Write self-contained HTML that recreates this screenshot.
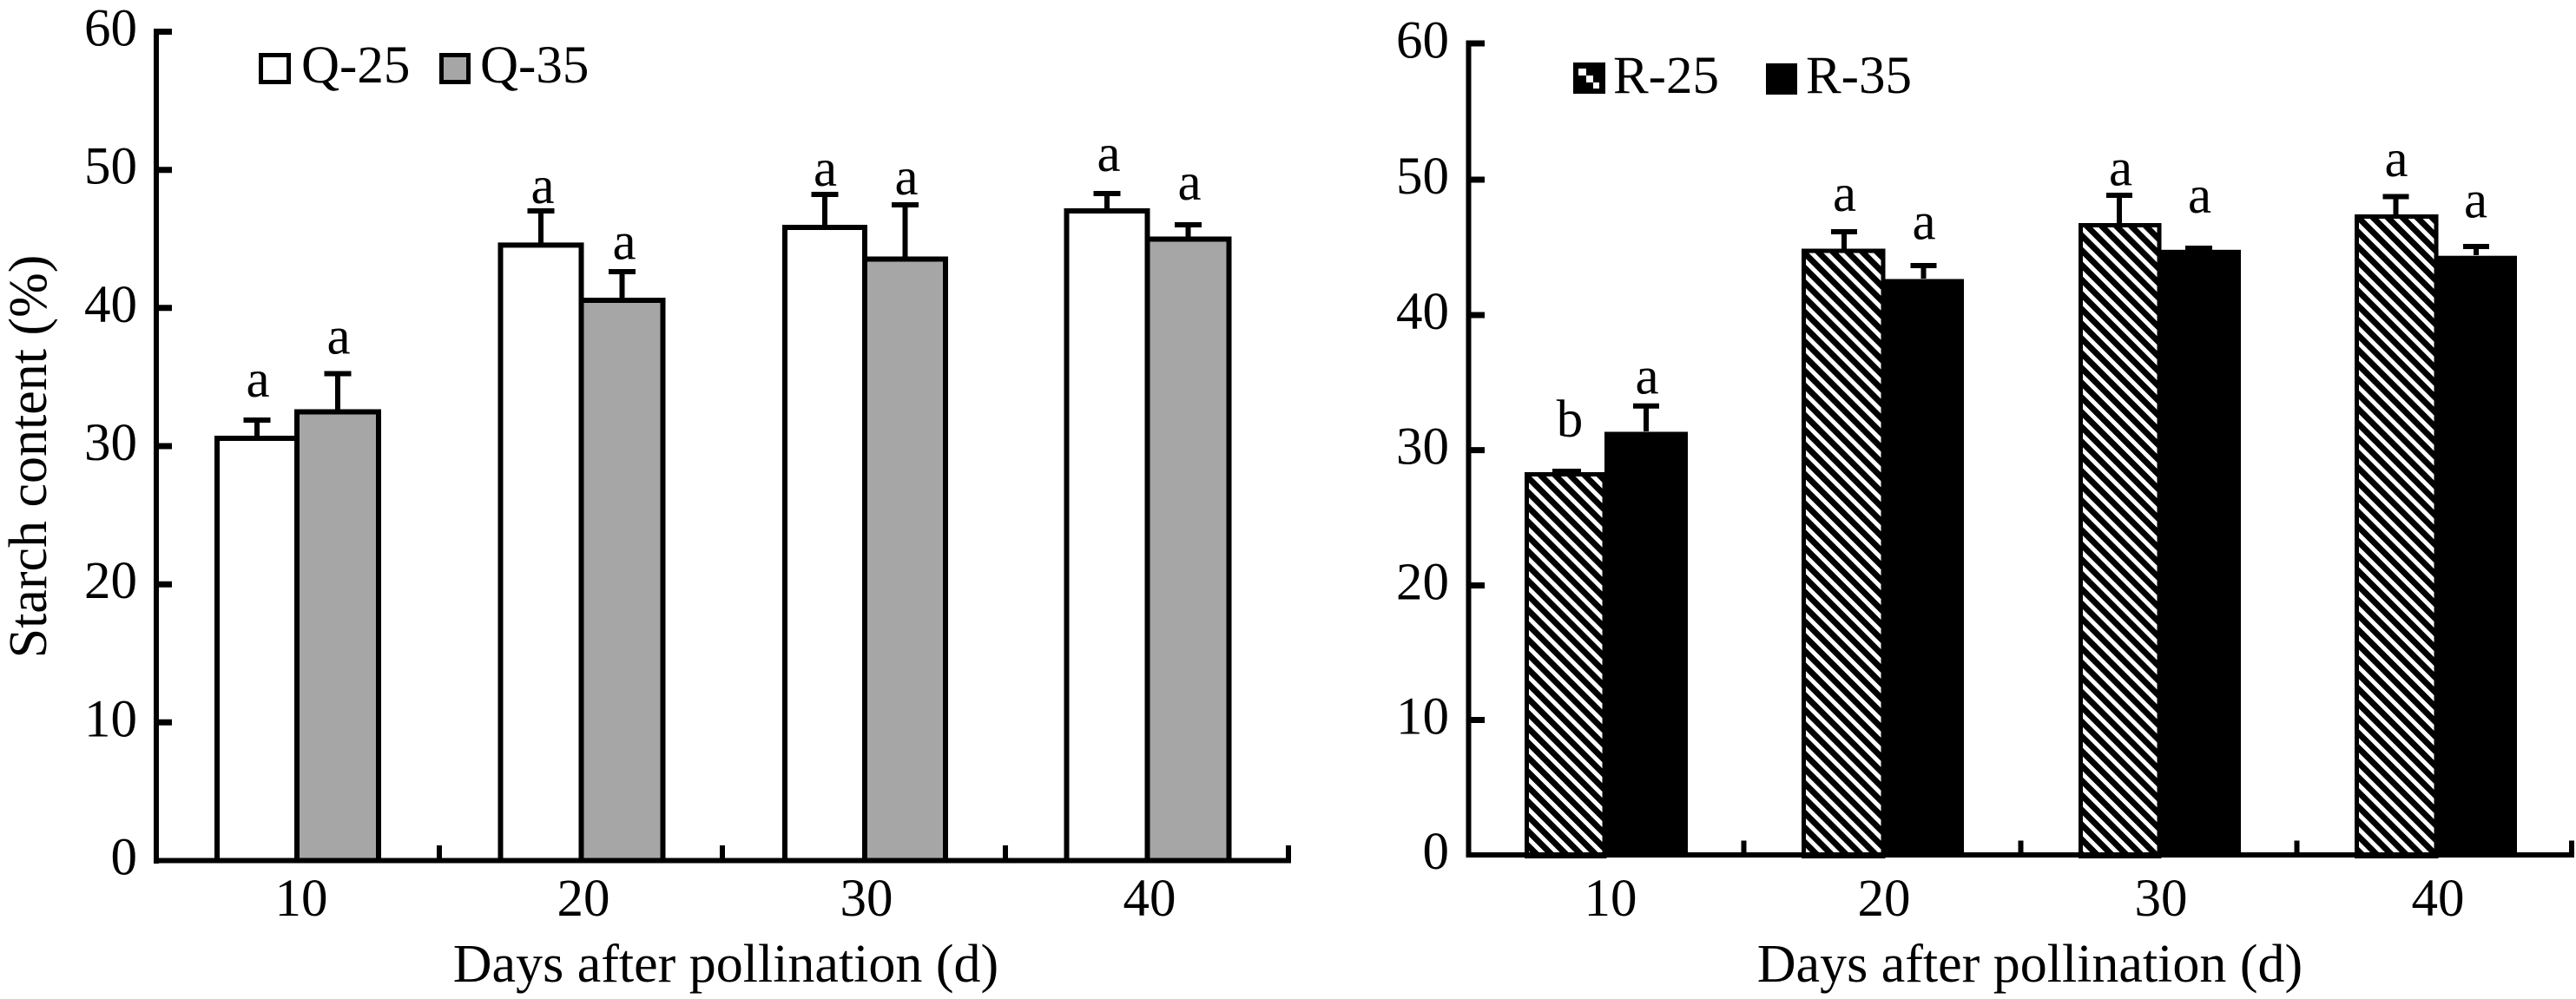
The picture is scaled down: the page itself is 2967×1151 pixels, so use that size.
<!DOCTYPE html>
<html>
<head>
<meta charset="utf-8">
<style>
  html, body { margin: 0; padding: 0; background: #ffffff; }
  svg { display: block; }
  text { font-family: "Liberation Serif", "Times New Roman", serif; fill: #000; }
</style>
</head>
<body>
<svg width="2967" height="1151" viewBox="0 0 2967 1151" xmlns="http://www.w3.org/2000/svg">
  <defs>
    <pattern id="hatch" patternUnits="userSpaceOnUse" width="12" height="12" patternTransform="rotate(-45)">
      <rect x="0" y="0" width="12" height="12" fill="#ffffff"/>
      <rect x="0" y="0" width="7" height="12" fill="#000000"/>
    </pattern>
  </defs>
  <rect x="0" y="0" width="2967" height="1151" fill="#ffffff"/>

  <!-- ================= LEFT CHART ================= -->
  <g stroke="#000" stroke-width="6" stroke-linejoin="miter">
    <rect x="250" y="505" width="92" height="486.5" fill="#ffffff"/>
    <rect x="342" y="474.5" width="94" height="517" fill="#a6a6a6"/>
    <rect x="576.5" y="282.4" width="93" height="709.1" fill="#ffffff"/>
    <rect x="669.5" y="346" width="94" height="645.5" fill="#a6a6a6"/>
    <rect x="904" y="262" width="92" height="729.5" fill="#ffffff"/>
    <rect x="996" y="298.5" width="93" height="693" fill="#a6a6a6"/>
    <rect x="1228.5" y="243" width="93" height="748.5" fill="#ffffff"/>
    <rect x="1321.5" y="275.5" width="94" height="716" fill="#a6a6a6"/>
  </g>
  <g stroke="#000" stroke-width="6" fill="none">
    <line x1="296" y1="505" x2="296" y2="484"/><line x1="280.5" y1="484" x2="311.5" y2="484"/>
    <line x1="389" y1="474" x2="389" y2="430.5"/><line x1="373.5" y1="430.5" x2="404.5" y2="430.5"/>
    <line x1="623" y1="282" x2="623" y2="243"/><line x1="607.5" y1="243" x2="638.5" y2="243"/>
    <line x1="716.5" y1="346" x2="716.5" y2="313"/><line x1="701" y1="313" x2="732" y2="313"/>
    <line x1="950" y1="262" x2="950" y2="224"/><line x1="934.5" y1="224" x2="965.5" y2="224"/>
    <line x1="1042.5" y1="298" x2="1042.5" y2="236"/><line x1="1027" y1="236" x2="1058" y2="236"/>
    <line x1="1275" y1="243" x2="1275" y2="223"/><line x1="1259.5" y1="223" x2="1290.5" y2="223"/>
    <line x1="1368.5" y1="275" x2="1368.5" y2="259"/><line x1="1353" y1="259" x2="1384" y2="259"/>
  </g>
  <g stroke="#000" fill="none">
    <line x1="180" y1="33" x2="180" y2="995" stroke-width="6"/>
    <line x1="177" y1="991.5" x2="1487" y2="991.5" stroke-width="6"/>
    <g stroke-width="7">
      <line x1="177" y1="36.5" x2="198" y2="36.5"/>
      <line x1="177" y1="195.7" x2="198" y2="195.7"/>
      <line x1="177" y1="354.8" x2="198" y2="354.8"/>
      <line x1="177" y1="514" x2="198" y2="514"/>
      <line x1="177" y1="673.2" x2="198" y2="673.2"/>
      <line x1="177" y1="832.3" x2="198" y2="832.3"/>
    </g>
    <g stroke-width="6">
      <line x1="506" y1="991" x2="506" y2="974"/>
      <line x1="832" y1="991" x2="832" y2="974"/>
      <line x1="1158" y1="991" x2="1158" y2="974"/>
      <line x1="1484" y1="994" x2="1484" y2="974"/>
    </g>
  </g>
  <g font-size="61" text-anchor="end">
    <text x="158" y="52.5">60</text>
    <text x="158" y="211.7">50</text>
    <text x="158" y="370.8">40</text>
    <text x="158" y="530">30</text>
    <text x="158" y="689.2">20</text>
    <text x="158" y="848.3">10</text>
    <text x="158" y="1007.5">0</text>
  </g>
  <g font-size="61" text-anchor="middle">
    <text x="347" y="1055">10</text>
    <text x="672" y="1055">20</text>
    <text x="998" y="1055">30</text>
    <text x="1324" y="1055">40</text>
  </g>
  <text x="836" y="1131" font-size="62" text-anchor="middle">Days after pollination (d)</text>
  <text transform="translate(53,526) rotate(-90)" font-size="62" text-anchor="middle">Starch content (%)</text>
  <g font-size="61" text-anchor="middle">
    <text x="297" y="457">a</text>
    <text x="390" y="407.5">a</text>
    <text x="625" y="234">a</text>
    <text x="719" y="298.5">a</text>
    <text x="950.5" y="214">a</text>
    <text x="1044" y="224">a</text>
    <text x="1277" y="197">a</text>
    <text x="1370" y="230">a</text>
  </g>
  <rect x="300.5" y="63.5" width="32" height="31" fill="#ffffff" stroke="#000" stroke-width="5"/>
  <text x="347" y="95" font-size="61">Q-25</text>
  <rect x="508.5" y="63.5" width="31" height="31" fill="#a6a6a6" stroke="#000" stroke-width="5"/>
  <text x="553" y="95" font-size="61">Q-35</text>

  <!-- ================= RIGHT CHART ================= -->
  <g stroke="#000" stroke-width="5">
    <rect x="1758.5" y="546.5" width="89.5" height="440" fill="url(#hatch)"/>
    <rect x="2077.5" y="289" width="91.5" height="697.5" fill="url(#hatch)"/>
    <rect x="2396.5" y="259.5" width="90.5" height="727" fill="url(#hatch)"/>
    <rect x="2714.5" y="249.5" width="91.5" height="737" fill="url(#hatch)"/>
  </g>
  <g fill="#000">
    <rect x="1848" y="497.5" width="96" height="488"/>
    <rect x="2169" y="321.5" width="93" height="664"/>
    <rect x="2487" y="287.8" width="94" height="697.5"/>
    <rect x="2806" y="294.7" width="93" height="690.5"/>
  </g>
  <g stroke="#000" stroke-width="6" fill="none">
    <line x1="1788" y1="543" x2="1821" y2="543"/>
    <line x1="1896" y1="497" x2="1896" y2="467.7"/><line x1="1881" y1="467.7" x2="1911" y2="467.7"/>
    <line x1="2124" y1="289" x2="2124" y2="267"/><line x1="2109" y1="267" x2="2139" y2="267"/>
    <line x1="2215.5" y1="321" x2="2215.5" y2="306"/><line x1="2200.5" y1="306" x2="2230.5" y2="306"/>
    <line x1="2441" y1="259" x2="2441" y2="225"/><line x1="2426" y1="225" x2="2456" y2="225"/>
    <line x1="2517" y1="286" x2="2548" y2="286"/>
    <line x1="2759.5" y1="249" x2="2759.5" y2="226.5"/><line x1="2744.5" y1="226.5" x2="2774.5" y2="226.5"/>
    <line x1="2852" y1="294" x2="2852" y2="284"/><line x1="2837" y1="284" x2="2867" y2="284"/>
  </g>
  <g stroke="#000" fill="none">
    <line x1="1691.5" y1="46.5" x2="1691.5" y2="988" stroke-width="6"/>
    <line x1="1688.5" y1="985" x2="2965" y2="985" stroke-width="6"/>
    <g stroke-width="7">
      <line x1="1688.5" y1="50" x2="1710" y2="50"/>
      <line x1="1688.5" y1="207" x2="1710" y2="207"/>
      <line x1="1688.5" y1="363" x2="1710" y2="363"/>
      <line x1="1688.5" y1="518.6" x2="1710" y2="518.6"/>
      <line x1="1688.5" y1="674.5" x2="1710" y2="674.5"/>
      <line x1="1688.5" y1="829.5" x2="1710" y2="829.5"/>
    </g>
    <g stroke-width="6">
      <line x1="2008.5" y1="985" x2="2008.5" y2="968.5"/>
      <line x1="2327.5" y1="985" x2="2327.5" y2="968.5"/>
      <line x1="2645.5" y1="985" x2="2645.5" y2="968.5"/>
      <line x1="2962" y1="988" x2="2962" y2="968.5"/>
    </g>
  </g>
  <g font-size="61" text-anchor="end">
    <text x="1669" y="66.5">60</text>
    <text x="1669" y="223">50</text>
    <text x="1669" y="379">40</text>
    <text x="1669" y="534.6">30</text>
    <text x="1669" y="690.5">20</text>
    <text x="1669" y="845.5">10</text>
    <text x="1669" y="1001">0</text>
  </g>
  <g font-size="61" text-anchor="middle">
    <text x="1855" y="1055">10</text>
    <text x="2170" y="1055">20</text>
    <text x="2489" y="1055">30</text>
    <text x="2808" y="1055">40</text>
  </g>
  <text x="2338" y="1131" font-size="62" text-anchor="middle">Days after pollination (d)</text>
  <g font-size="61" text-anchor="middle">
    <text x="1808" y="503">b</text>
    <text x="1897" y="453.5">a</text>
    <text x="2124.5" y="243">a</text>
    <text x="2216" y="275.5">a</text>
    <text x="2442.5" y="213.5">a</text>
    <text x="2533.5" y="245">a</text>
    <text x="2760" y="203">a</text>
    <text x="2851.5" y="250.5">a</text>
  </g>
  <rect x="1812" y="72" width="37" height="36" fill="#000"/>
  <polygon points="1818,79 1827,79 1827,87 1835,87 1835,95 1842,95 1842,102 1835,102 1835,95 1827,95 1827,87 1818,87" fill="#ffffff"/>
  <text x="1858" y="107" font-size="61">R-25</text>
  <rect x="2034" y="73" width="36" height="36" fill="#000"/>
  <text x="2080" y="107" font-size="61">R-35</text>
</svg>
</body>
</html>
